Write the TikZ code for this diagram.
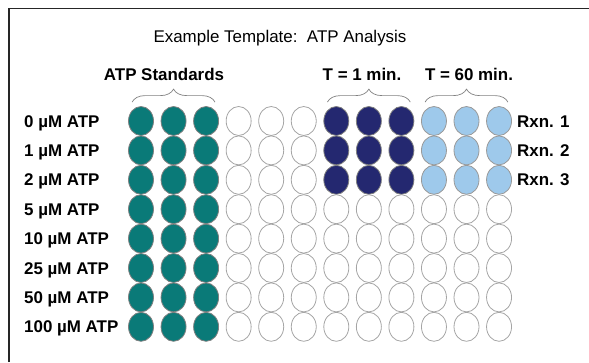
\documentclass[tikz,border=0pt]{standalone}
\usepackage{fontspec}
\setmainfont{Liberation Sans}
\usetikzlibrary{shapes.geometric,decorations.pathreplacing,calc}

\definecolor{wellteal}{RGB}{10,122,120}
\definecolor{wellnavy}{RGB}{36,40,112}
\definecolor{wellsky}{RGB}{158,201,235}
\definecolor{wellrim}{RGB}{165,165,165}

\tikzset{
  well/.style={ellipse, draw=wellrim, line width=0.8bp, minimum width=25bp,
    minimum height=29bp, inner sep=0pt},
  std/.style={well, fill=wellteal, draw=gray},
  tone/.style={well, fill=wellnavy, draw=gray},
  tsixty/.style={well, fill=wellsky, draw=gray!80},
  rowlabel/.style={anchor=base west, inner sep=0pt, font=\bfseries\fontsize{17}{17}\selectfont},
  header/.style={anchor=base, inner sep=0pt, font=\bfseries\fontsize{17}{17}\selectfont},
  brace/.style={decorate, decoration={brace, amplitude=13bp}, draw=gray,
    line width=0.7bp},
}

\begin{document}
\begin{tikzpicture}[x=1bp,y=-1bp]
	\useasboundingbox (0,0) rectangle (589,362);
	% frame
	\draw[line width=1.6bp, black!85] (9,362) -- (9,8.5) -- (589,8.5);
	\node[anchor=base, inner sep=0pt, font=\fontsize{17}{17}\selectfont] (title) at (280,42)
		{Example Template:\ \ ATP Analysis};
	% plate
	\foreach \r in {1,...,8}
	\foreach \c in {1,...,12} {
		\def\wellstyle{well}
		\ifnum\c<4 \def\wellstyle{std}\fi
		\ifnum\r<4 \ifnum\c>6 \ifnum\c<10 \def\wellstyle{tone}\else \def\wellstyle{tsixty}\fi\fi\fi
		\node[\wellstyle] (w\r-\c) at ({141+32.55*(\c-1)},{121+29.4*(\r-1)}) {};
	}
	% row labels
	\foreach \v [count=\r] in {0,1,2,5,10,25,50,100}
		\node[rowlabel] (conc\r) at (24,{127+29.4*(\r-1)}) {\v\ µM ATP};
	\foreach \r in {1,2,3}
		\node[rowlabel] (rxn\r) at (517,{127+29.4*(\r-1)}) {Rxn. \r};
	% column groups
	\node[header] (stdhead) at (164,80) {ATP Standards};
	\node[header] (onehead) at (362,80) {T = 1 min.};
	\node[header] (sixtyhead) at (469,80) {T = 60 min.};
	\draw[brace] ($(w1-1.west |- w1-1.north)+(4,-4)$) -- ($(w1-3.east |- w1-3.north)+(-4,-4)$);
	\draw[brace] ($(w1-7.west |- w1-7.north)+(4,-4)$) -- ($(w1-9.east |- w1-9.north)+(-4,-4)$);
	\draw[brace] ($(w1-10.west |- w1-10.north)+(4,-4)$) -- ($(w1-12.east |- w1-12.north)+(-4,-4)$);
\end{tikzpicture}
\end{document}
